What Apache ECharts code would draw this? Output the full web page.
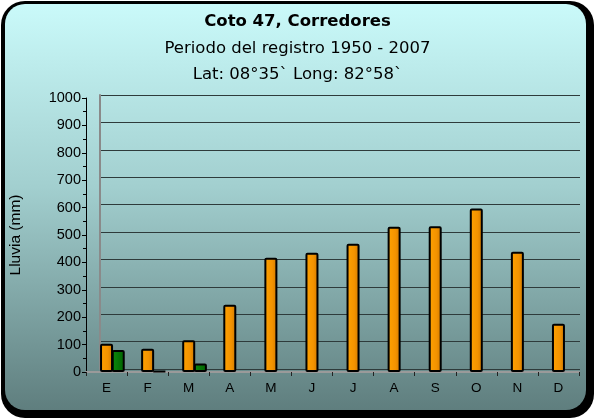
<!DOCTYPE html>
<html>
<head>
<meta charset="utf-8">
<script src="https://cdn.jsdelivr.net/npm/echarts@6/dist/echarts.min.js"></script>
<style>
  html, body { margin: 0; padding: 0; background: #fff; }
  #chart { width: 595px; height: 419px; }
</style>
</head>
<body>
<div id="chart"></div>
<script>
// meses
const months = ['E', 'F', 'M', 'A', 'M', 'J', 'J', 'A', 'S', 'O', 'N', 'D'];
// lluvia (mm), barras naranja con par verde (E-M)
const rainPaired = [103, 85, 116, null, null, null, null, null, null, null, null, null];
const greenValues = [80, 3, 31, null, null, null, null, null, null, null, null, null];
// barras naranja solas (A-D)
const rainSingle = [null, null, null, 245, 417, 435, 468, 530, 532, 597, 439, 176];
// hueco vacío para correr el par a la derecha (efecto 3D)
const emptySlot = months.map(() => null);
const yTicks = [0, 100, 200, 300, 400, 500, 600, 700, 800, 900, 1000];

const font = 'DejaVu Sans, Verdana, sans-serif';
const arial = 'Liberation Sans, Arial, sans-serif';

const orange = new echarts.graphic.LinearGradient(0, 0, 1, 0, [
  { offset: 0, color: '#FFA200' },
  { offset: 0.6, color: '#F39300' },
  { offset: 1, color: '#CF7800' },
]);
const green = new echarts.graphic.LinearGradient(0, 0, 1, 0, [
  { offset: 0, color: '#0E8A0E' },
  { offset: 1, color: '#006200' },
]);

const myChart = echarts.init(document.getElementById('chart'), null, { renderer: 'canvas' });

const option = {
  animation: false,
  graphic: [
    {
      type: 'rect',
      z: -20,
      shape: { x: 1, y: 1, width: 593, height: 417, r: 24 },
      style: { fill: '#000' },
    },
    {
      type: 'rect',
      z: -19,
      shape: { x: 5, y: 4, width: 581, height: 406, r: 20 },
      style: {
        fill: new echarts.graphic.LinearGradient(0, 0, 0, 1, [
          { offset: 0, color: '#CAFAFA' },
          { offset: 0.45, color: '#A2CFCF' },
          { offset: 1, color: '#5F7E7E' },
        ]),
      },
    },
  ],
  title: [
    {
      text: 'Coto 47, Corredores',
      left: 'center',
      top: 8,
      textStyle: { fontFamily: font, fontSize: 16.5, fontWeight: 'bold', color: '#000' },
    },
    {
      text: 'Periodo del registro 1950 - 2007',
      left: 'center',
      top: 35,
      textStyle: { fontFamily: font, fontSize: 16.5, fontWeight: 'normal', color: '#000' },
    },
    {
      text: 'Lat: 08°35` Long: 82°58`',
      left: 'center',
      top: 61,
      textStyle: { fontFamily: font, fontSize: 16.5, fontWeight: 'normal', color: '#000' },
    },
  ],
  grid: [
    // frente
    { left: 86, right: 16, top: 98, bottom: 47 },
    // pared de fondo
    { left: 100, right: 15, top: 95, bottom: 50 },
  ],
  xAxis: [
    {
      type: 'category',
      gridIndex: 0,
      data: months,
      axisLine: { lineStyle: { color: '#9a9a9a', width: 2 } },
      axisTick: { show: true, alignWithLabel: false, length: 4, lineStyle: { color: '#222' } },
      axisLabel: { fontFamily: arial, fontSize: 13.5, color: '#000', margin: 9 },
    },
    {
      type: 'category',
      gridIndex: 0,
      data: months,
      show: false,
    },
    {
      type: 'category',
      gridIndex: 1,
      data: months,
      show: false,
    },
  ],
  yAxis: [
    {
      type: 'value',
      gridIndex: 0,
      min: 0,
      max: 1000,
      interval: 100,
      name: 'Lluvia (mm)',
      nameLocation: 'middle',
      nameRotate: 90,
      nameGap: 62,
      nameTextStyle: { fontFamily: arial, fontSize: 15.5, color: '#000' },
      axisLine: { show: true, lineStyle: { color: '#000', width: 1 } },
      axisTick: { show: true, inside: false, length: 4, lineStyle: { color: '#000' } },
      minorTick: { show: true, splitNumber: 2, length: 3, lineStyle: { color: '#000' } },
      axisLabel: {
        fontFamily: arial,
        fontSize: 14.5,
        color: '#000',
        margin: 5,
        formatter: (v) => (yTicks.includes(v) ? String(v) : ''),
      },
      splitLine: { show: false },
    },
    {
      type: 'value',
      gridIndex: 1,
      min: 0,
      max: 1000,
      interval: 100,
      axisLine: { show: true, lineStyle: { color: '#8a8a8a', width: 2 } },
      axisTick: { show: false },
      axisLabel: { show: false },
      splitLine: { show: true, lineStyle: { color: '#2e3b3b', width: 1 } },
    },
  ],
  series: [
    {
      name: 'vacio',
      type: 'bar',
      xAxisIndex: 0,
      yAxisIndex: 0,
      data: emptySlot,
      barWidth: 13,
      barGap: '-10%',
      silent: true,
    },
    {
      name: 'Lluvia',
      type: 'bar',
      xAxisIndex: 0,
      yAxisIndex: 0,
      data: rainPaired,
      barWidth: 13,
      itemStyle: { color: orange, borderColor: '#000', borderWidth: 2, borderRadius: 1 },
    },
    {
      name: 'Lluvia 2',
      type: 'bar',
      xAxisIndex: 0,
      yAxisIndex: 0,
      data: greenValues,
      barWidth: 13,
      itemStyle: { color: green, borderColor: '#000', borderWidth: 2, borderRadius: 1 },
    },
    {
      name: 'Lluvia sola',
      type: 'bar',
      xAxisIndex: 1,
      yAxisIndex: 0,
      data: rainSingle,
      barWidth: 13,
      itemStyle: { color: orange, borderColor: '#000', borderWidth: 2, borderRadius: 1 },
    },
  ],
};

myChart.setOption(option);
window.addEventListener('resize', () => {
  myChart.resize();
});
</script>
</body>
</html>
